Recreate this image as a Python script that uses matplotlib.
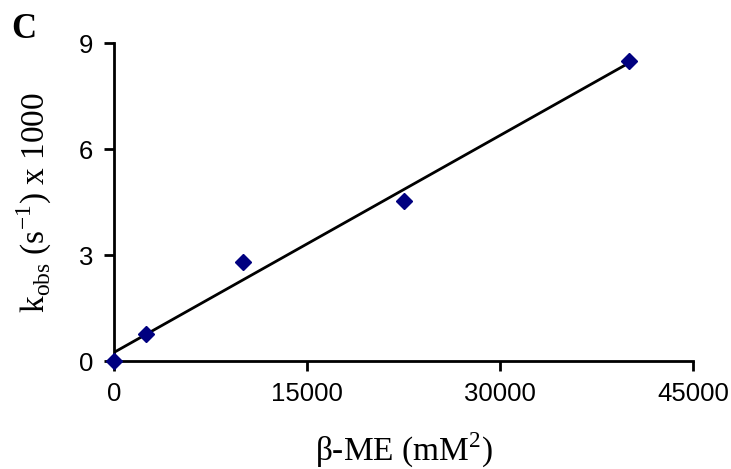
import numpy as np
import matplotlib
matplotlib.use('Agg')
import matplotlib.pyplot as plt

# beta-ME^2 (mM^2) vs k_obs x 1000
bme_sq = [0, 2500, 10000, 22500, 40000]
kobs = [0.0, 0.77, 2.8, 4.53, 8.49]
xticks = [0, 15000, 30000, 45000]
yticks = [0, 3, 6, 9]

plt.rcParams['mathtext.fontset'] = 'custom'
plt.rcParams['mathtext.rm'] = 'Liberation Serif'

fig = plt.figure(figsize=(7.31, 4.69), dpi=100)
ax = fig.add_axes([0.156, 0.230, 0.792, 0.678])

# linear trend line
a, b = np.polyfit(bme_sq, kobs, 1)
xl = np.array([bme_sq[0], bme_sq[-1]])
ax.plot(xl, a * xl + b, color='black', lw=2, zorder=2)
ax.plot(bme_sq, kobs, 'D', color='#000080', ms=8.5, zorder=3, clip_on=False)

ax.set_xlim(0, 45000)
ax.set_ylim(0, 9)
ax.set_xticks(xticks)
ax.set_yticks(yticks)
for s in ['top', 'right']:
    ax.spines[s].set_visible(False)
for s in ['left', 'bottom']:
    ax.spines[s].set_linewidth(2)
ax.tick_params(direction='out', length=7, width=2, labelsize=18.5, pad=8)
for lbl in ax.get_xticklabels() + ax.get_yticklabels():
    lbl.set_fontfamily('Liberation Sans')

ax.set_xlabel('β-ME (mM$^2$)', family='Liberation Serif', fontsize=24, labelpad=18)
ax.set_ylabel(r'k$_{\mathregular{obs}}$ (s$^{\mathregular{-1}}$) x 1000', family='Liberation Serif', fontsize=24, labelpad=18)

fig.text(0.016, 0.918, 'C', family='Liberation Serif', fontweight='bold', fontsize=25)

fig.savefig('out.png', dpi=100)
